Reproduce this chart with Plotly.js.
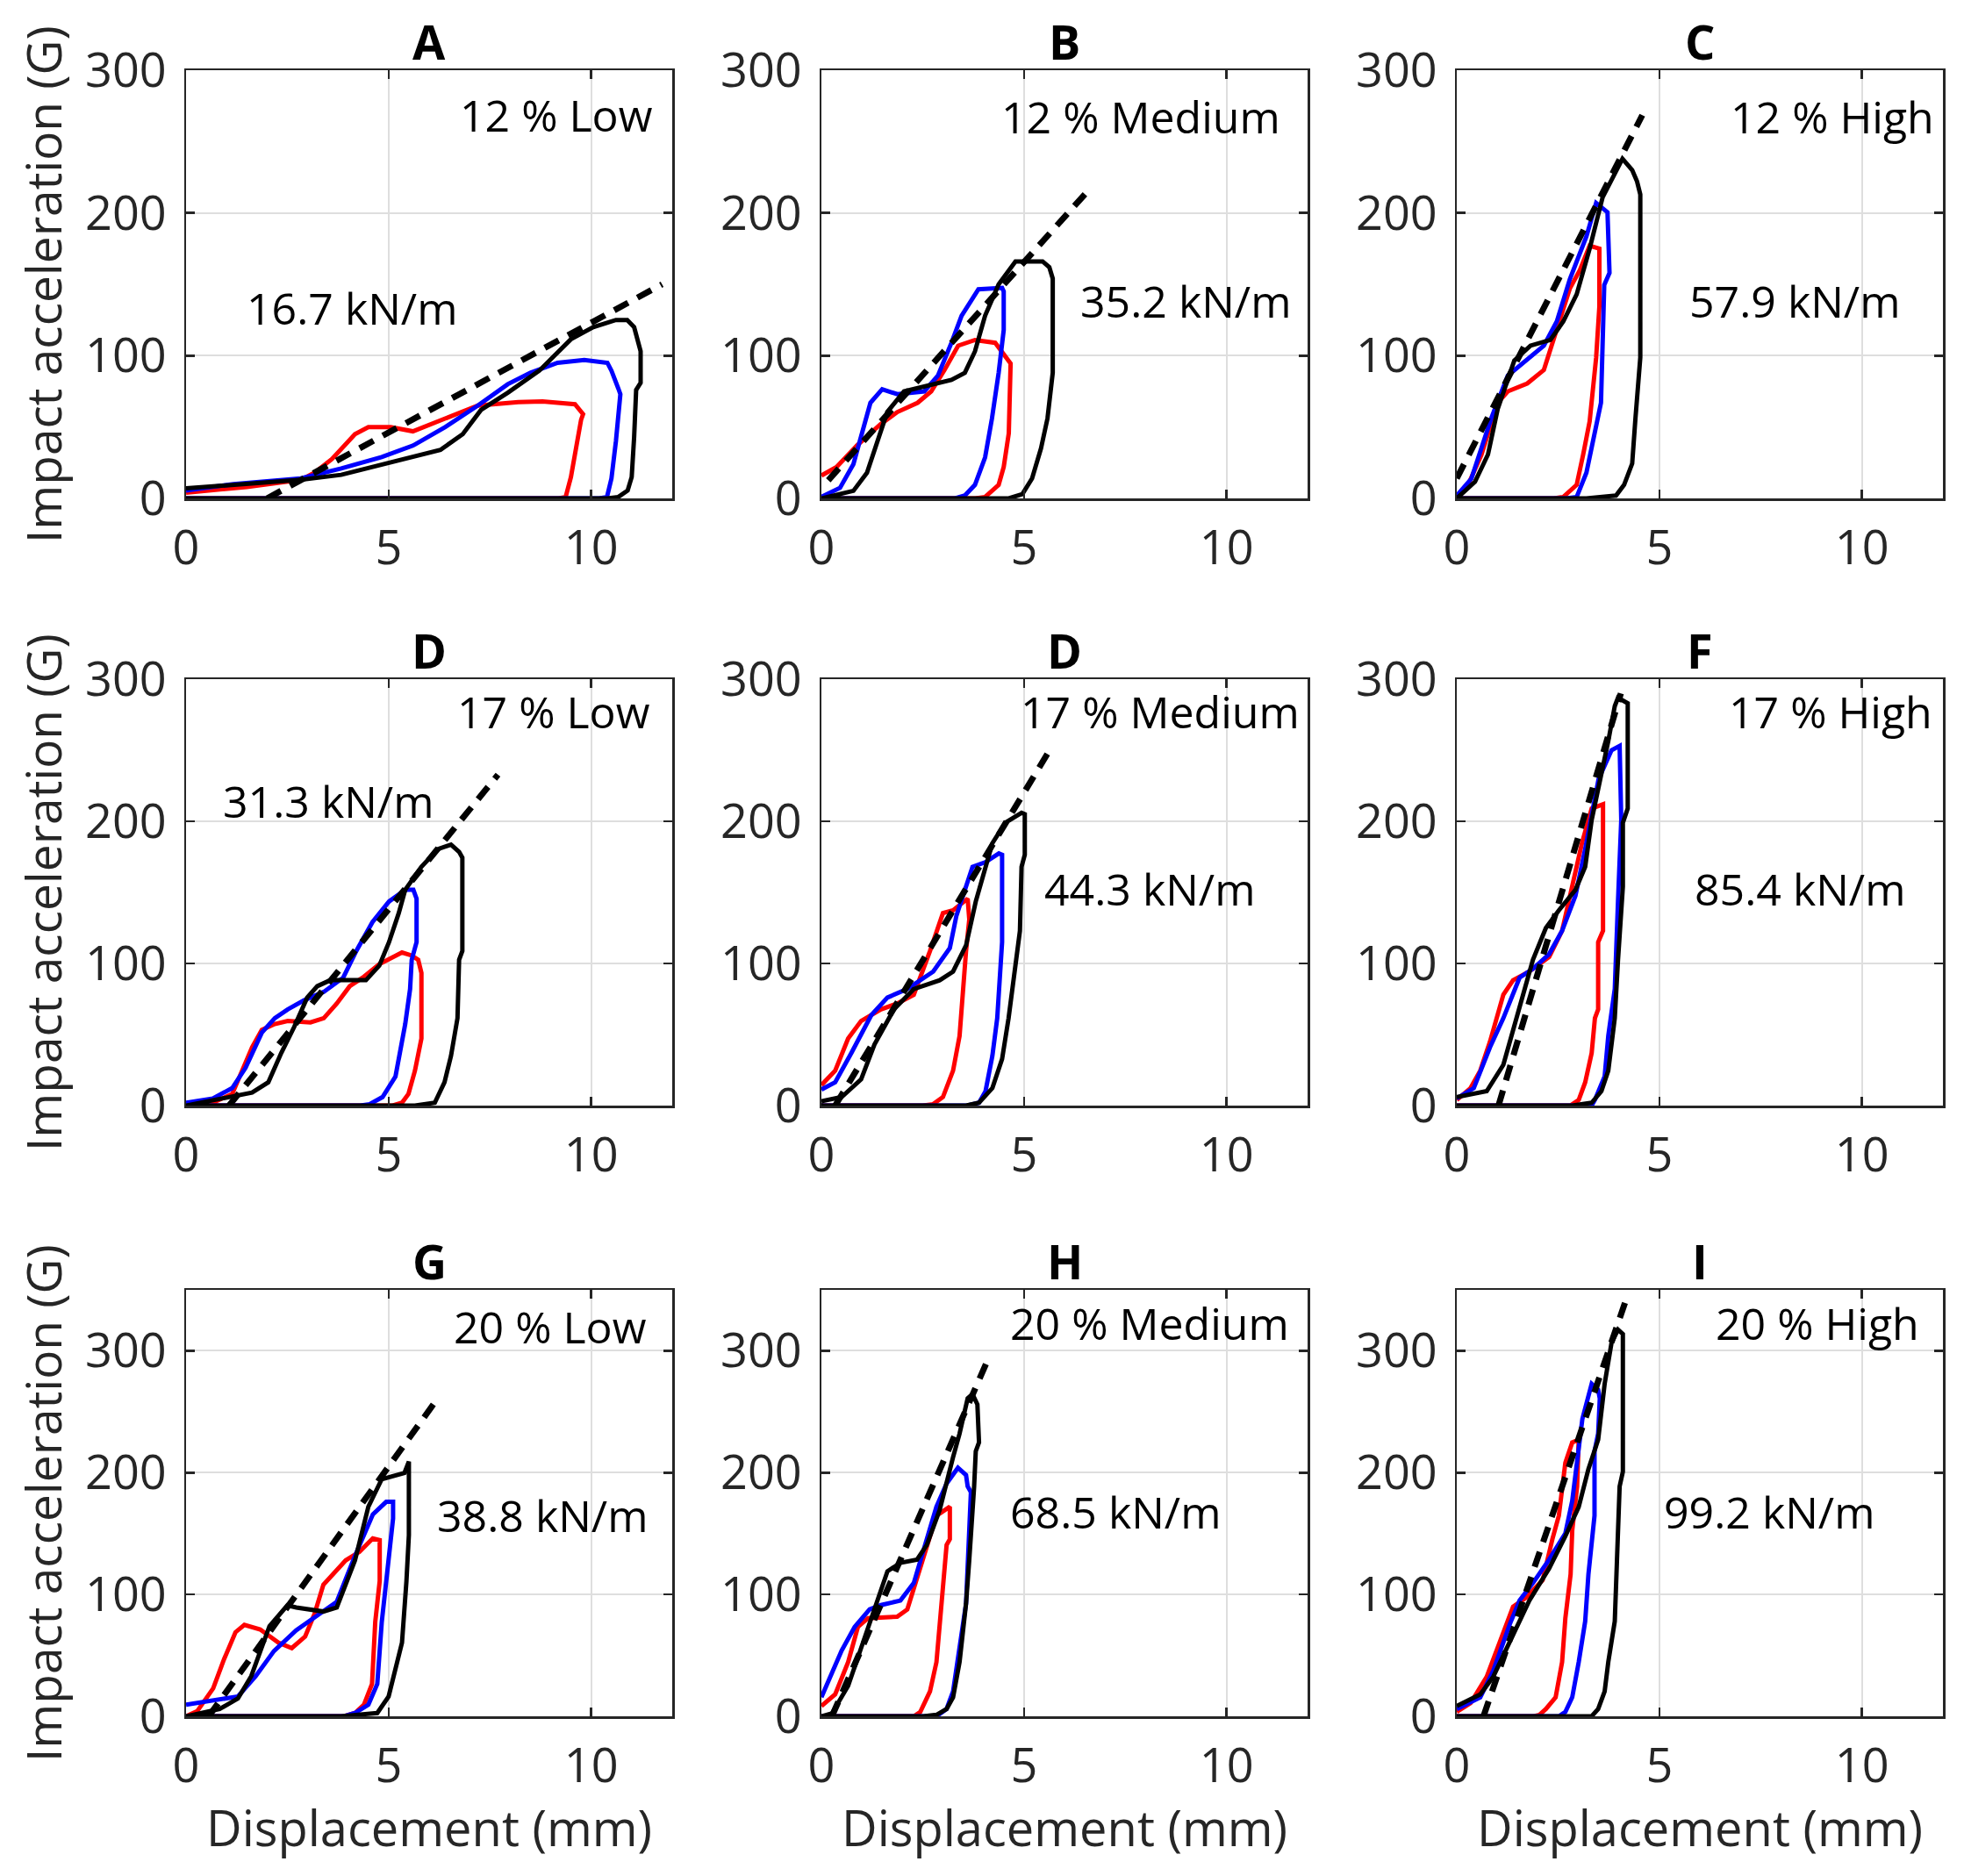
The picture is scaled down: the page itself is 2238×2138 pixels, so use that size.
<!DOCTYPE html>
<html>
<head>
<meta charset="utf-8">
<script src="https://cdn.plot.ly/plotly-3.0.1.min.js"></script>
<style>html,body{margin:0;padding:0;background:#fff;}</style>
</head>
<body>
<div id="chart" style="width:2238px;height:2138px;"></div>
<script>
// ---------------- data (displacement mm, acceleration G) ----------------
const panelTitles = ['A','B','C','D','D','F','G','H','I'];
const conditionLabels = ['12 % Low','12 % Medium','12 % High','17 % Low','17 % Medium','17 % High','20 % Low','20 % Medium','20 % High'];
const stiffnessLabels = ['16.7 kN/m','35.2 kN/m','57.9 kN/m','31.3 kN/m','44.3 kN/m','85.4 kN/m','38.8 kN/m','68.5 kN/m','99.2 kN/m'];
const xTicks = [0,5,10];
const yTicks = [0,100,200,300];
const xAxisTitle = 'Displacement (mm)';
const yAxisTitle = 'Impact acceleration (G)';

const A_red   = [[0,4],[1.5,8],[2.83,13],[3.17,18],[3.6,27.5],[4.17,45],[4.5,50],[5.05,50],[5.6,47],[6.4,56],[7.2,65],[8.2,67.5],[8.8,68],[9.6,66],[9.7,63],[9.8,59],[9.75,55],[9.6,32],[9.5,15],[9.37,1],[9.2,0],[0,0]];
const A_blue  = [[0,5.5],[1.17,10],[2.83,14],[3.83,21],[4.83,29],[5.6,37],[6.4,50],[7.2,65],[7.94,80],[8.5,88],[9.17,95],[9.83,97],[10.4,95],[10.5,89.5],[10.67,77],[10.72,73],[10.61,40],[10.5,14],[10.39,1],[10.2,0],[0,0]];
const A_black = [[0,7],[1.5,10],[2.83,13],[3.83,16.5],[5.05,25],[6.28,34],[6.83,45],[7.28,62],[7.94,74],[8.72,89.5],[9.5,111.5],[10.05,120],[10.61,125],[10.89,125],[11.06,120],[11.17,109],[11.22,103],[11.22,81],[11.11,76],[11.06,43],[11.0,15],[10.9,5.5],[10.67,1],[10.4,0],[0,0]];
const A_fit   = [[2.0,0],[11.75,150]];

const B_red   = [[0,16],[0.375,22],[0.875,37],[1.46,52],[1.875,60.5],[2.375,67],[2.71,75],[3.04,90],[3.375,107],[3.79,111],[4.29,109],[4.42,104],[4.625,96.6],[4.67,94.5],[4.625,45.6],[4.5,22],[4.375,9.5],[4.04,1],[3.8,0],[0,0]];
const B_blue  = [[0,1],[0.46,7.4],[0.79,24],[1.21,67],[1.5,76.4],[1.875,73],[2.54,75],[2.875,86],[3.21,109],[3.46,128],[3.875,146.5],[4.46,147.5],[4.5,145],[4.5,118],[4.375,88],[4.21,56],[4.04,28.7],[3.79,9.5],[3.54,2],[3.3,0],[0,0]];
const B_black = [[0,0],[0.79,5.3],[1.125,18],[1.375,39],[1.625,60.5],[2.04,75],[2.54,78.5],[3.21,83],[3.54,88],[3.79,103],[4.04,128],[4.375,150],[4.79,166],[5.46,166],[5.625,162],[5.71,154],[5.71,88],[5.58,56],[5.42,35],[5.2,14],[4.96,3],[4.625,0],[0,0]];
const B_fit   = [[0.17,12.7],[6.58,215.5]];

const C_red   = [[0,1],[0.28,9.5],[0.61,30.7],[1.01,67],[1.26,75],[1.74,80.5],[2.15,90],[2.39,111],[2.79,147],[3.04,160],[3.28,177],[3.52,175],[3.52,134.5],[3.44,98.5],[3.28,54],[3.12,30.7],[2.96,9.5],[2.63,1],[2.4,0],[0,0]];
const C_blue  = [[0,2],[0.36,13.8],[0.85,56],[1.26,86],[2.15,107],[2.47,124],[2.79,153.5],[3.2,183.5],[3.44,207],[3.72,200.5],[3.77,158],[3.64,149.5],[3.56,67],[3.36,41],[3.2,18],[2.96,1],[2.7,0],[0,0]];
const C_black = [[0,0],[0.45,11.7],[0.77,30.7],[1.01,62.6],[1.42,96.6],[1.82,107],[2.31,111],[2.63,124],[2.96,143],[3.28,175],[3.6,211],[4.09,238],[4.33,230],[4.45,222],[4.53,213],[4.53,98.7],[4.41,56],[4.33,24.4],[4.13,9.5],[3.93,2],[3.2,0],[0,0]];
const C_fit   = [[0,14],[4.58,268.5]];

const D_red   = [[0,0],[0.66,2],[1.14,8.2],[1.39,24.6],[1.63,41],[1.87,53.3],[2.19,57.4],[2.51,59.5],[3.07,58.5],[3.4,61.5],[3.72,71.8],[4.04,84],[4.36,90],[4.77,99.5],[5.33,107.7],[5.57,105.6],[5.73,102.6],[5.81,93.3],[5.81,47.2],[5.65,24.6],[5.49,8.2],[5.33,2],[5.1,0],[0,0]];
const D_blue  = [[0,2],[0.66,5],[1.14,12.3],[1.47,26.7],[1.87,51.3],[2.19,61.5],[2.51,67.7],[2.91,74],[3.4,80],[3.88,90],[4.2,108.7],[4.6,129],[5.01,143.6],[5.41,151.8],[5.61,151.8],[5.69,145.6],[5.69,115],[5.57,102.6],[5.53,82],[5.41,57.4],[5.17,20.5],[4.85,6],[4.53,1],[4.3,0],[0,0]];
const D_black = [[0,0],[0.98,6],[1.63,9.2],[2.03,16.4],[2.35,37],[2.67,55.4],[2.99,76],[3.24,84],[3.56,88.2],[4.44,88.2],[4.77,98.5],[5.01,115],[5.25,135.4],[5.41,151.8],[5.81,168],[6.22,180.5],[6.54,183.6],[6.74,178.5],[6.82,174.4],[6.82,108.7],[6.74,102.6],[6.7,61.5],[6.54,35],[6.38,16.4],[6.14,2],[5.65,0],[0,0]];
const D_fit   = [[1.06,0],[7.7,232.8]];

const E_red   = [[0,14.4],[0.34,24.6],[0.66,47.2],[0.98,59.5],[1.47,67.7],[1.87,71.8],[2.28,78],[2.44,90],[2.68,108.7],[3.0,135.4],[3.25,137.4],[3.61,145.6],[3.65,131],[3.57,108.7],[3.49,82],[3.41,49],[3.25,24.6],[3.0,6],[2.76,1],[2.5,0],[0,0]];
const E_blue  = [[0,11.3],[0.34,16.4],[0.74,37],[1.23,63.6],[1.63,76],[2.12,82],[2.76,94.3],[3.17,110.8],[3.33,133.3],[3.73,168],[4.05,171.3],[4.38,177.4],[4.46,176.4],[4.46,115],[4.34,61.5],[4.22,35],[4.05,10],[3.89,2],[3.6,0],[0,0]];
const E_black = [[0,3],[0.5,6],[0.98,18.5],[1.31,43],[1.79,67.7],[2.28,82],[2.92,88.2],[3.25,94.3],[3.57,112.7],[3.81,143.6],[4.22,184.6],[4.54,199],[4.94,206],[5.02,205],[5.02,176.4],[4.94,168],[4.9,123],[4.78,96.3],[4.62,61.5],[4.46,32.8],[4.22,12.3],[3.89,2],[3.57,0],[0,0]];
const E_fit   = [[0.34,0],[5.59,248]];

const F_red   = [[0,4],[0.34,12.3],[0.58,24.6],[0.82,45],[1.15,78],[1.39,88.2],[1.79,94.3],[2.28,104.5],[2.6,123],[2.93,164],[3.09,184.6],[3.33,209],[3.61,212],[3.61,123],[3.49,115],[3.49,67.7],[3.41,61.5],[3.33,37],[3.17,16.4],[3.01,4],[2.8,0],[0,0]];
const F_blue  = [[0,5],[0.42,12.3],[0.82,41],[1.15,61.5],[1.55,90],[1.88,96.3],[2.28,106.6],[2.6,123],[2.93,147.7],[3.17,180.5],[3.5,229.7],[3.82,250],[4.02,253],[4.06,201],[3.98,143.6],[3.9,82],[3.74,49],[3.65,20.5],[3.41,4],[3.33,0],[0,0]];
const F_black = [[0,6],[0.74,10.2],[1.15,28.7],[1.47,61.5],[1.88,102.6],[2.2,125],[2.52,137.4],[2.93,151.8],[3.17,168],[3.33,201],[3.49,221.5],[3.74,256.4],[3.9,281],[3.98,287],[4.22,283],[4.22,209],[4.1,199],[4.1,154],[3.98,102.6],[3.9,61.5],[3.74,24.6],[3.57,10.2],[3.33,2],[2.85,0],[0,0]];
const F_fit   = [[1.03,0],[4.05,290]];

const G_red   = [[0,0],[0.28,4.4],[0.67,23],[0.94,47],[1.22,69],[1.44,75],[1.83,71.3],[2.28,60.4],[2.61,56],[2.94,65.5],[3.17,84],[3.39,108],[3.94,128],[4.28,135],[4.61,146],[4.78,144.6],[4.78,111],[4.67,77.4],[4.59,26.5],[4.39,9.5],[4.17,2.7],[3.9,0],[0,0]];
const G_blue  = [[0,9.5],[1.28,16.3],[1.72,33],[2.17,53.6],[2.72,70.6],[3.39,85.6],[3.72,94],[4.17,131.7],[4.61,165.7],[4.94,176],[5.11,176],[5.11,162.3],[4.94,111],[4.83,77],[4.72,26.5],[4.5,9.5],[4.17,2.7],[3.9,0],[0,0]];
const G_black = [[0,0],[0.83,6],[1.28,14.6],[1.61,33],[2.06,74],[2.5,91],[2.72,89.3],[3.39,86],[3.72,89.3],[4.17,128],[4.5,172],[4.83,194.6],[5.39,199.7],[5.5,209],[5.5,148.7],[5.44,111],[5.33,60.4],[5.17,40],[5.0,16.3],[4.72,2.7],[3.83,0],[0,0]];
const G_fit   = [[0.56,0],[6.17,259]];

const H_red   = [[0,8.4],[0.34,18],[0.66,44.5],[0.9,73.3],[1.15,80.5],[1.87,81.7],[2.12,87.7],[2.28,104.6],[2.52,131],[2.84,164.7],[3.17,172],[3.17,145.4],[3.09,140.6],[3.0,104.6],[2.92,68.5],[2.84,44.5],[2.68,20.4],[2.44,3.6],[2.28,0],[0,0]];
const H_blue  = [[0,15.6],[0.5,54],[0.82,73.3],[1.19,87.7],[1.47,91.3],[1.95,95],[2.28,109.4],[2.52,135.8],[2.84,172],[3.09,191],[3.37,204],[3.57,198],[3.61,188.7],[3.69,184],[3.65,155],[3.57,92.5],[3.41,56.5],[3.25,20.4],[3.09,6],[2.84,0],[0,0]];
const H_black = [[0,0],[0.26,2.4],[0.66,25],[0.99,56.5],[1.39,95],[1.63,119],[1.95,126],[2.36,128.6],[2.6,140.6],[2.92,169.5],[3.25,212.7],[3.41,232],[3.61,261],[3.73,264.4],[3.85,256],[3.89,224.8],[3.81,217.5],[3.77,188.7],[3.65,128.6],[3.57,92.5],[3.41,44.5],[3.25,15.6],[3.09,6],[2.84,1.2],[2.52,0],[0,0]];
const H_fit   = [[0.26,0],[4.1,292]];

const I_red   = [[0,3.6],[0.34,10.8],[0.74,32.5],[1.07,61.3],[1.39,90],[1.71,97.4],[2.12,111.8],[2.36,145.4],[2.52,164.7],[2.68,208],[2.85,224.8],[3.01,227],[2.97,188.7],[2.85,152.6],[2.81,116.6],[2.68,80.5],[2.6,44.5],[2.44,15.6],[2.2,6],[2.04,1.2],[1.9,0],[0,0]];
const I_blue  = [[0,6],[0.58,15.6],[0.9,37.3],[1.31,75.7],[1.55,95],[1.88,109.4],[2.28,128.6],[2.68,150.2],[2.85,176.7],[3.1,244],[3.33,272.8],[3.49,268],[3.53,260.8],[3.49,232],[3.4,217.5],[3.4,164.7],[3.25,116.6],[3.17,78],[3.01,44.5],[2.85,15.6],[2.68,3.6],[2.52,0],[0,0]];
const I_black = [[0,8.4],[0.58,18],[0.9,32.5],[1.31,61.3],[1.79,95],[2.28,121.4],[2.68,147.8],[3.01,171.9],[3.25,203],[3.49,227],[3.65,272.8],[3.82,306.5],[3.98,317.3],[4.1,313.7],[4.1,200.7],[4.02,188.7],[3.94,116.6],[3.9,78],[3.74,44.5],[3.65,20.4],[3.49,6],[3.33,0],[0,0]];
const I_fit   = [[0.66,0],[4.22,346]];

// ---------------- layout constants ----------------
const W = 2238, H = 2138;
const colLeft = [212, 936, 1660];
const plotW = 554;
const rowTop = [80, 774, 1470];
const plotH = [488, 486, 486];
const rowYMax = [300, 300, 350];
const FONT = '"Open Sans", "Noto Sans", sans-serif';
const AXC = '#262626';

// annotation positions in data coordinates [x, y] (centres)
const condPos  = [[9.14,266],[7.88,265],[9.27,265],[9.08,275],[8.37,275],[9.23,275],[8.98,317],[8.1,320],[8.9,320]];
const stiffPos = [[4.1,131],[8.99,136],[8.35,136],[3.5,212],[8.1,150],[8.47,150],[8.8,162],[7.25,165],[7.72,165]];

const panels = [
  [A_red,A_blue,A_black,A_fit],[B_red,B_blue,B_black,B_fit],[C_red,C_blue,C_black,C_fit],
  [D_red,D_blue,D_black,D_fit],[E_red,E_blue,E_black,E_fit],[F_red,F_blue,F_black,F_fit],
  [G_red,G_blue,G_black,G_fit],[H_red,H_blue,H_black,H_fit],[I_red,I_blue,I_black,I_fit]
];
const colors = ['#ff0000','#0000ff','#000000'];

const traces = [];
const layout = {
  width: W, height: H,
  margin: {l:0, r:0, t:0, b:0},
  paper_bgcolor: '#ffffff', plot_bgcolor: '#ffffff',
  showlegend: false,
  font: {family: FONT, color: AXC},
  annotations: []
};

for (let i = 0; i < 9; i++) {
  const r = Math.floor(i / 3), c = i % 3;
  const n = i === 0 ? '' : String(i + 1);
  const xa = 'x' + n, ya = 'y' + n;
  const x0 = colLeft[c] / W, x1 = (colLeft[c] + plotW) / W;
  const y1 = 1 - rowTop[r] / H, y0 = 1 - (rowTop[r] + plotH[r]) / H;
  const yt = yTicks.filter(v => v <= rowYMax[r]);

  layout['xaxis' + n] = {
    domain: [x0, x1], anchor: ya, range: [0, 12], tickvals: xTicks, ticktext: xTicks.map(String),
    showgrid: true, gridcolor: '#dedede', gridwidth: 2, zeroline: false,
    showline: true, linecolor: AXC, linewidth: 2.5, mirror: 'ticks',
    ticks: 'inside', ticklen: 10, tickwidth: 2.5, tickcolor: AXC,
    tickfont: {family: FONT, size: 54, color: AXC}, ticklabelstandoff: 8, fixedrange: true
  };
  layout['yaxis' + n] = {
    domain: [y0, y1], anchor: xa, range: [0, rowYMax[r]], tickvals: yt, ticktext: yt.map(String),
    showgrid: true, gridcolor: '#dedede', gridwidth: 2, zeroline: false,
    showline: true, linecolor: AXC, linewidth: 2.5, mirror: 'ticks',
    ticks: 'inside', ticklen: 10, tickwidth: 2.5, tickcolor: AXC,
    tickfont: {family: FONT, size: 54, color: AXC}, ticklabelstandoff: 9, fixedrange: true
  };

  const p = panels[i];
  for (let k = 0; k < 3; k++) {
    traces.push({
      type: 'scatter', mode: 'lines', xaxis: xa, yaxis: ya,
      x: p[k].map(d => d[0]), y: p[k].map(d => d[1]),
      line: {color: colors[k], width: 5}, hoverinfo: 'skip'
    });
  }
  traces.push({
    type: 'scatter', mode: 'lines', xaxis: xa, yaxis: ya,
    x: p[3].map(d => d[0]), y: p[3].map(d => d[1]),
    line: {color: '#000000', width: 7, dash: '18px,12px'}, hoverinfo: 'skip'
  });

  // panel title
  layout.annotations.push({
    xref: 'paper', yref: 'paper', x: (colLeft[c] + plotW / 2) / W, y: 1 - (rowTop[r] - 33) / H,
    xanchor: 'center', yanchor: 'middle', showarrow: false,
    text: '<b>' + panelTitles[i] + '</b>', font: {family: FONT, size: 54, color: '#000000'}
  });
  // condition label
  layout.annotations.push({
    xref: xa, yref: ya, x: condPos[i][0], y: condPos[i][1], xanchor: 'center', yanchor: 'middle',
    yshift: 4, showarrow: false, text: conditionLabels[i], font: {family: FONT, size: 50, color: '#000000'}
  });
  // stiffness label
  layout.annotations.push({
    xref: xa, yref: ya, x: stiffPos[i][0], y: stiffPos[i][1], xanchor: 'center', yanchor: 'middle',
    yshift: 4, showarrow: false, text: stiffnessLabels[i], font: {family: FONT, size: 50, color: '#000000'}
  });
  // y axis title (left column)
  if (c === 0) {
    layout.annotations.push({
      xref: 'paper', yref: 'paper', x: 48 / W, y: 1 - (rowTop[r] + plotH[r] / 2) / H,
      xanchor: 'center', yanchor: 'middle', textangle: -90, showarrow: false,
      text: yAxisTitle, font: {family: FONT, size: 55, color: AXC}
    });
  }
  // x axis title (bottom row)
  if (r === 2) {
    layout.annotations.push({
      xref: 'paper', yref: 'paper', x: (colLeft[c] + plotW / 2) / W, y: 1 - 2082 / H,
      xanchor: 'center', yanchor: 'middle', showarrow: false,
      text: xAxisTitle, font: {family: FONT, size: 56, color: AXC}
    });
  }
}

Plotly.newPlot('chart', traces, layout, {displayModeBar: false, staticPlot: true});
</script>
</body>
</html>
